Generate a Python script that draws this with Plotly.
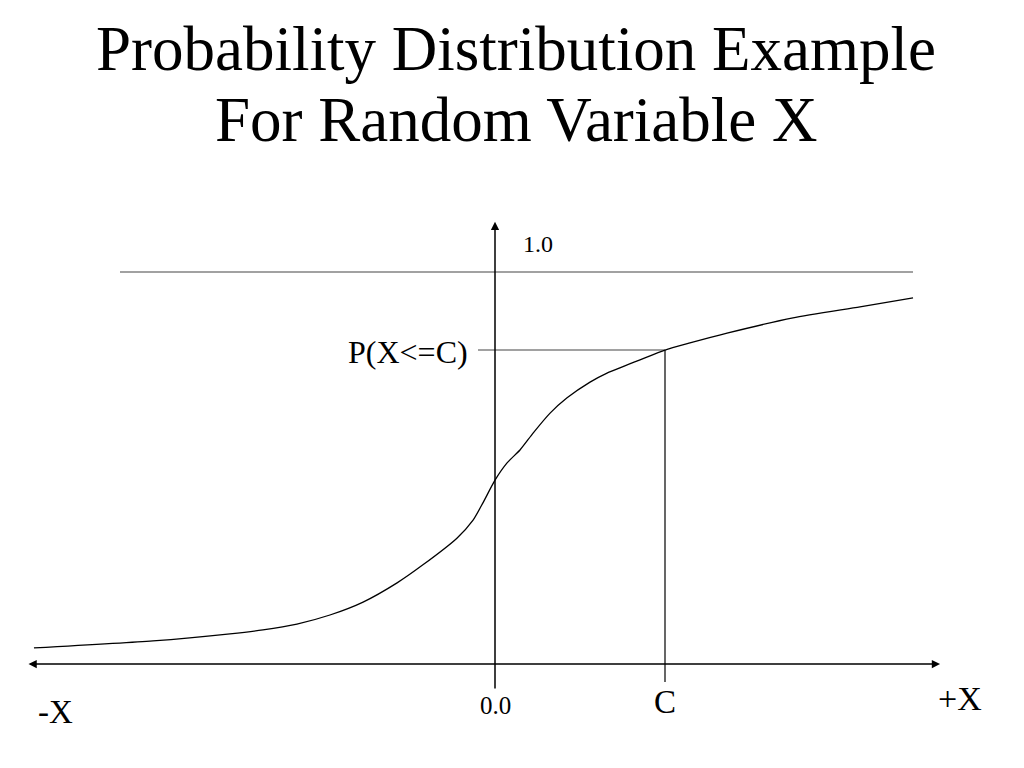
import plotly.graph_objects as go

# ---- data (x in units where C = 1, y = cumulative probability) ----
curve_x = [-2.712, -2.012, -1.559, -1.365, -1.165, -0.971, -0.776, -0.576, -0.424, -0.224,
           -0.129, -0.071, 0.0, 0.071, 0.147, 0.224, 0.324, 0.424, 0.559, 0.659,
           0.853, 1.0, 1.147, 1.365, 1.753, 2.147, 2.459]
curve_y = [0.041, 0.059, 0.077, 0.087, 0.102, 0.125, 0.158, 0.207, 0.253, 0.321,
           0.367, 0.411, 0.469, 0.513, 0.546, 0.589, 0.640, 0.679, 0.719, 0.742,
           0.776, 0.801, 0.819, 0.844, 0.883, 0.911, 0.934]

C_value = 1.0
P_C = 0.801
upper_line_x = [-2.206, 2.459]
upper_line_y = 1.0
h_axis_x = [-2.753, 2.618]
v_axis_y = [-0.066, 1.128]
c_line_bottom = -0.046
p_line_left = -0.10

title_lines = ["Probability Distribution Example", "For Random Variable X"]

# the page body has an 8px margin, so the figure is 1016x760 and the ranges are set accordingly
FIG_W, FIG_H = 1016, 760
X_RANGE = [-2.8647, 3.1118]
Y_RANGE = [-0.2653, 1.6735]

FONT = "Liberation Serif, Times New Roman, serif"
BLACK = "#000000"

fig = go.Figure()
fig.add_trace(go.Scatter(x=curve_x, y=curve_y, mode="lines",
                         line=dict(color=BLACK, width=1.3, shape="spline", smoothing=0.6),
                         hoverinfo="skip", showlegend=False))

shapes = [
    dict(type="line", x0=upper_line_x[0], x1=upper_line_x[1], y0=upper_line_y, y1=upper_line_y,
         line=dict(color="#444444", width=1.2)),
    dict(type="line", x0=p_line_left, x1=C_value, y0=P_C, y1=P_C,
         line=dict(color="#444444", width=1.2)),
    dict(type="line", x0=C_value, x1=C_value, y0=c_line_bottom, y1=P_C,
         line=dict(color=BLACK, width=1.2)),
]
for s in shapes:
    s.update(xref="x", yref="y", layer="below")

annotations = [
    dict(x=h_axis_x[1], y=0, ax=h_axis_x[0], ay=0, xref="x", yref="y", axref="x", ayref="y",
         showarrow=True, arrowhead=2, arrowside="end+start", arrowsize=1.1, arrowwidth=1.5,
         arrowcolor=BLACK, text=""),
    dict(x=0, y=v_axis_y[1], ax=0, ay=v_axis_y[0], xref="x", yref="y", axref="x", ayref="y",
         showarrow=True, arrowhead=2, arrowsize=1.1, arrowwidth=1.5, arrowcolor=BLACK, text=""),
    dict(x=0.253, y=1.071, text="1.0", font=dict(size=24)),
    dict(x=0.0, y=-0.107, text="0.0", font=dict(size=25)),
    dict(x=C_value, y=-0.097, text="C", font=dict(size=33)),
    dict(x=2.735, y=-0.087, text="+X", font=dict(size=34)),
    dict(x=-2.588, y=-0.122, text="-X", font=dict(size=33)),
    dict(x=-0.147, y=P_C - 0.005, text="P(X<=C)", xanchor="right", font=dict(size=32)),
    dict(x=0.5, y=1 - 41 / FIG_H, xref="paper", yref="paper", text=title_lines[0],
         font=dict(size=63), showarrow=False),
    dict(x=0.5, y=1 - 112 / FIG_H, xref="paper", yref="paper", text=title_lines[1],
         font=dict(size=63), showarrow=False),
]
for a in annotations:
    a.setdefault("xref", "x")
    a.setdefault("yref", "y")
    a.setdefault("showarrow", False)
    a.setdefault("xanchor", "center")
    a.setdefault("yanchor", "middle")
    f = a.get("font", {})
    f.update(family=FONT, color=BLACK)
    a["font"] = f

fig.update_layout(
    width=FIG_W, height=FIG_H,
    margin=dict(l=0, r=0, t=0, b=0),
    paper_bgcolor="white", plot_bgcolor="white",
    xaxis=dict(range=X_RANGE, visible=False, fixedrange=True),
    yaxis=dict(range=Y_RANGE, visible=False, fixedrange=True),
    shapes=shapes, annotations=annotations, showlegend=False,
)

fig.write_html("out.html", config={"displayModeBar": False})
